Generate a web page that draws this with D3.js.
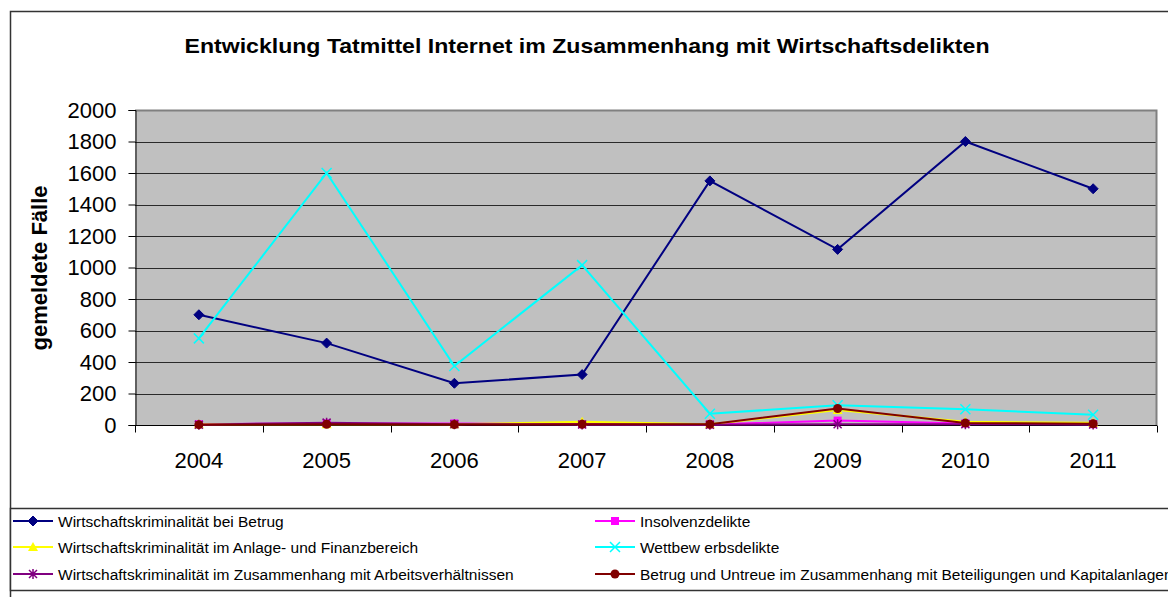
<!DOCTYPE html>
<html>
<head>
<meta charset="utf-8">
<script src="https://cdn.jsdelivr.net/npm/d3@7"></script>
<style>
  html, body { margin: 0; padding: 0; background: #fff; }
  svg { display: block; font-family: "Liberation Sans", Arial, sans-serif; }
</style>
</head>
<body>
<svg id="chart" width="1168" height="597"></svg>
<script>
// Years on the x axis
const years = ["2004", "2005", "2006", "2007", "2008", "2009", "2010", "2011"];

// Reported cases per offence group
const betrug        = [700, 520, 265, 320, 1550, 1115, 1800, 1500];
const insolvenz     = [5, 10, 10, 5, 3, 28, 10, 5];
const anlage        = [5, 5, 5, 20, 5, 95, 20, 15];
const wettbewerb    = [550, 1600, 375, 1015, 72, 125, 100, 65];
const arbeit        = [2, 15, 5, 3, 2, 5, 5, 3];
const beteiligungen = [2, 5, 3, 5, 5, 105, 12, 8];

const yTicks = [0, 200, 400, 600, 800, 1000, 1200, 1400, 1600, 1800, 2000];

const seriesNames = [
  "Wirtschaftskriminalität bei Betrug",
  "Insolvenzdelikte",
  "Wirtschaftskriminalität im Anlage- und Finanzbereich",
  "Wettbew erbsdelikte",
  "Wirtschaftskriminalität im Zusammenhang mit Arbeitsverhältnissen",
  "Betrug und Untreue im Zusammenhang mit Beteiligungen und Kapitalanlagen"
];
const seriesValues = [betrug, insolvenz, anlage, wettbewerb, arbeit, beteiligungen];
const seriesColors = ["#000080", "#FF00FF", "#FFFF00", "#00FFFF", "#800080", "#800000"];
const seriesMarkers = ["diamond", "square", "triangle", "cross", "star", "circle"];

const series = seriesNames.map((name, i) => ({
  name, values: seriesValues[i], color: seriesColors[i], marker: seriesMarkers[i]
}));

const svg = d3.select("#chart");

// outer chart frame
svg.append("rect")
  .attr("x", 10.5).attr("y", 11.5).attr("width", 1170).attr("height", 600)
  .attr("fill", "#fff").attr("stroke", "#333").attr("stroke-width", 1.5);

const plot = { left: 135, right: 1157, top: 110, bottom: 425 };

const x = d3.scaleBand().domain(years).range([plot.left, plot.right]);
const y = d3.scaleLinear().domain([0, 2000]).range([plot.bottom, plot.top]);

// plot background
svg.append("rect")
  .attr("x", plot.left).attr("y", plot.top)
  .attr("width", plot.right - plot.left).attr("height", plot.bottom - plot.top)
  .attr("fill", "#C0C0C0");

// horizontal gridlines
svg.append("g").selectAll("line")
  .data(yTicks.filter(t => t > 0 && t < 2000))
  .join("line")
  .attr("x1", plot.left).attr("x2", plot.right)
  .attr("y1", d => Math.round(y(d)) + 0.5).attr("y2", d => Math.round(y(d)) + 0.5)
  .attr("stroke", "#2a2a2a").attr("stroke-width", 1);

// plot border top/right
svg.append("path")
  .attr("d", `M${plot.left},${plot.top + 0.5}H${plot.right - 0.5}V${plot.bottom}`)
  .attr("fill", "none").attr("stroke", "#808080").attr("stroke-width", 2);

// y axis
const yAxis = d3.axisLeft(y).tickValues(yTicks).tickFormat(d3.format("d")).tickSize(7).tickPadding(12);
const gy = svg.append("g").attr("transform", `translate(${plot.left + 0.5},0)`).call(yAxis);
gy.select(".domain").attr("stroke", "#000");
gy.selectAll(".tick line").attr("stroke", "#000");
gy.selectAll(".tick text")
  .attr("font-size", 22).attr("fill", "#000")
  .attr("font-family", "'Liberation Sans', Arial, sans-serif");

// x axis: ticks sit on category boundaries
const gx = svg.append("g").attr("transform", `translate(0,${plot.bottom + 0.5})`);
gx.append("line").attr("x1", plot.left).attr("x2", plot.right)
  .attr("stroke", "#000");
const bounds = years.map(d => x(d)).concat([plot.right]);
gx.selectAll("line.tk").data(bounds).join("line").attr("class", "tk")
  .attr("x1", d => Math.round(d) + 0.5).attr("x2", d => Math.round(d) + 0.5)
  .attr("y1", 0).attr("y2", 7).attr("stroke", "#000");
gx.selectAll("text").data(years).join("text")
  .attr("x", d => x(d) + x.bandwidth() / 2)
  .attr("y", 42)
  .attr("text-anchor", "middle")
  .attr("font-size", 22)
  .text(d => d);

// y axis title
svg.append("text")
  .attr("transform", "translate(47,268) rotate(-90)")
  .attr("text-anchor", "middle")
  .attr("font-size", 22).attr("font-weight", "bold")
  .text("gemeldete Fälle");

// chart title
svg.append("text")
  .attr("x", 587).attr("y", 53)
  .attr("text-anchor", "middle")
  .attr("font-size", 21).attr("font-weight", "bold")
  .attr("textLength", 805).attr("lengthAdjust", "spacingAndGlyphs")
  .text("Entwicklung Tatmittel Internet im Zusammenhang mit Wirtschaftsdelikten");

// marker drawing
function drawMarker(g, type, color, cx, cy) {
  if (type === "diamond") {
    g.append("path").attr("d", `M${cx},${cy - 5}L${cx + 5},${cy}L${cx},${cy + 5}L${cx - 5},${cy}Z`)
      .attr("fill", color).attr("stroke", color);
  } else if (type === "square") {
    g.append("rect").attr("x", cx - 4).attr("y", cy - 4).attr("width", 8).attr("height", 8)
      .attr("fill", color);
  } else if (type === "triangle") {
    g.append("path").attr("d", `M${cx},${cy - 5}L${cx + 5},${cy + 4}L${cx - 5},${cy + 4}Z`)
      .attr("fill", color);
  } else if (type === "cross") {
    g.append("path").attr("d", `M${cx - 5},${cy - 5}L${cx + 5},${cy + 5}M${cx - 5},${cy + 5}L${cx + 5},${cy - 5}`)
      .attr("stroke", color).attr("stroke-width", 1.5);
  } else if (type === "star") {
    g.append("path").attr("d", `M${cx - 4},${cy - 4}L${cx + 4},${cy + 4}M${cx - 4},${cy + 4}L${cx + 4},${cy - 4}M${cx},${cy - 5}V${cy + 5}`)
      .attr("stroke", color).attr("stroke-width", 1.5);
  } else if (type === "circle") {
    g.append("circle").attr("cx", cx).attr("cy", cy).attr("r", 4.5).attr("fill", color);
  }
}

// series lines and markers
const line = d3.line().x((d, i) => x(years[i]) + x.bandwidth() / 2).y(d => y(d));
series.forEach(s => {
  const g = svg.append("g");
  g.append("path").attr("d", line(s.values))
    .attr("fill", "none").attr("stroke", s.color).attr("stroke-width", 2);
  s.values.forEach((v, i) => drawMarker(g, s.marker, s.color, x(years[i]) + x.bandwidth() / 2, y(v)));
});

// legend
const legend = svg.append("g");
legend.append("rect")
  .attr("x", 10.5).attr("y", 508.5).attr("width", 1170).attr("height", 82)
  .attr("fill", "#fff").attr("stroke", "#333").attr("stroke-width", 1.5);
const legendCols = [13, 595];
const legendRows = [521, 547, 574];
series.forEach((s, i) => {
  const col = i % 2, row = Math.floor(i / 2);
  const lx = legendCols[col], ly = legendRows[row];
  const g = legend.append("g");
  g.append("line").attr("x1", lx).attr("x2", lx + 40).attr("y1", ly).attr("y2", ly)
    .attr("stroke", s.color).attr("stroke-width", 2);
  drawMarker(g, s.marker, s.color, lx + 20, ly);
  g.append("text").attr("x", lx + 45).attr("y", ly + 5.5)
    .attr("font-size", 15.5).text(s.name);
});
</script>
</body>
</html>
